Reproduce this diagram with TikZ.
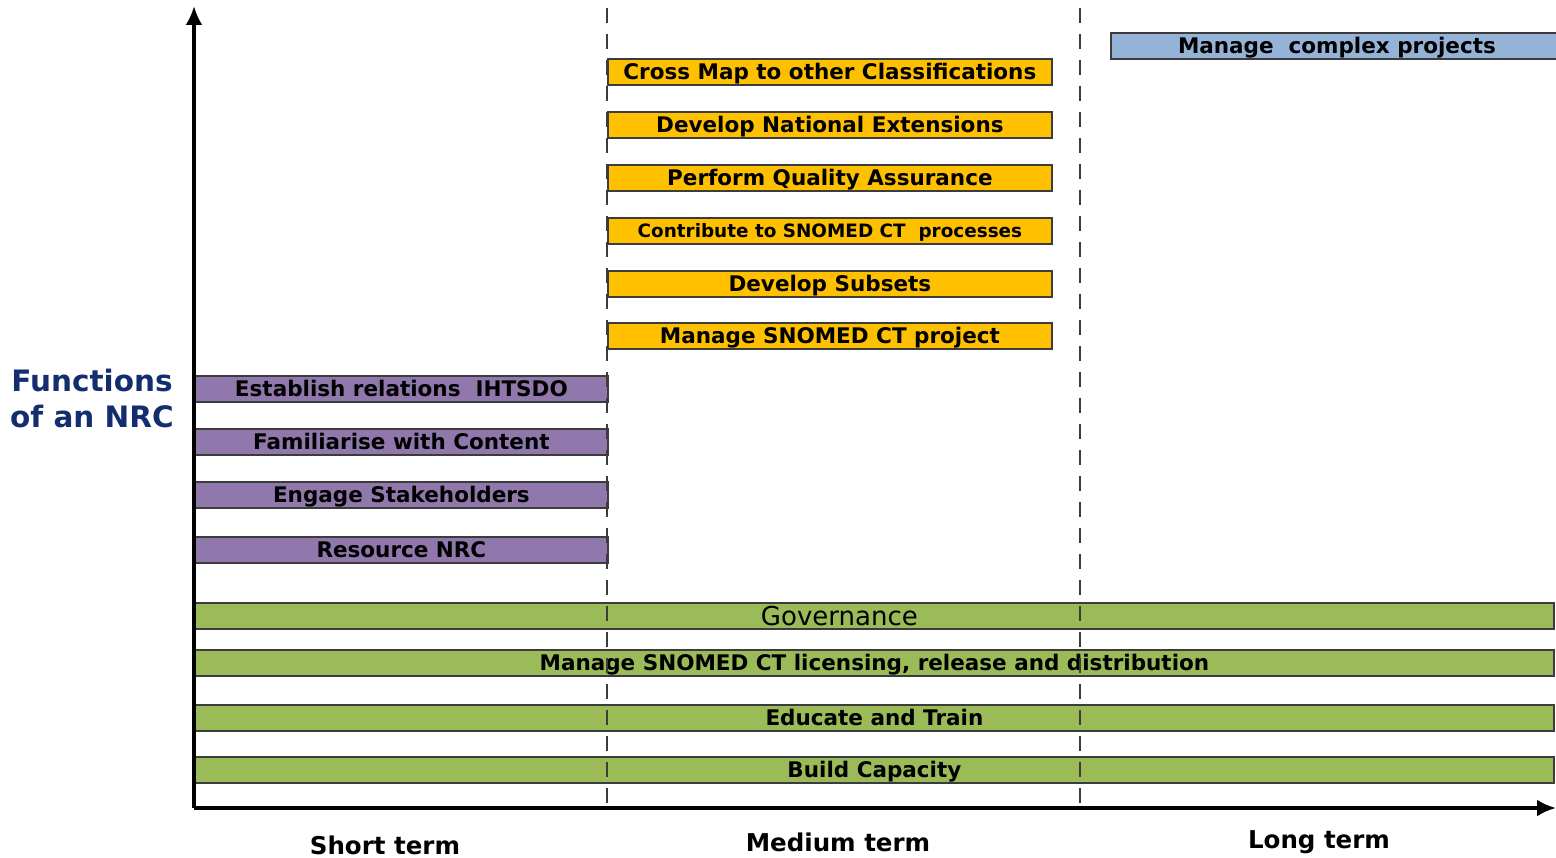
\documentclass[tikz,border=0pt]{standalone}
\usepackage{fontspec}
\setmainfont{DejaVu Sans}
\usetikzlibrary{arrows.meta}
\definecolor{barYellow}{RGB}{255,192,0}
\definecolor{barPurple}{RGB}{144,120,172}
\definecolor{barGreen}{RGB}{155,187,89}
\definecolor{barBlue}{RGB}{149,179,215}
\definecolor{barLine}{RGB}{60,60,60}
\definecolor{titleBlue}{RGB}{20,45,110}
\tikzset{bar/.style={draw=barLine, line width=1.8pt, minimum height=26pt, inner sep=0pt, anchor=west,
    text height=15.5pt, text depth=0pt, font=\bfseries\fontsize{21.5}{21.5}\selectfont},
  termlabel/.style={font=\bfseries\fontsize{24.5}{24.5}\selectfont}}

\begin{document}
\begin{tikzpicture}[x=1pt, y=-1pt]
\useasboundingbox (0,0) rectangle (1556,858);
% medium term
\node[bar, fill=barYellow, minimum width=444pt] (cross) at (607,72) {Cross Map to other Classifications};
\node[bar, fill=barYellow, minimum width=444pt] (natext) at (607,125) {Develop National Extensions};
\node[bar, fill=barYellow, minimum width=444pt] (qa) at (607,178) {Perform Quality Assurance};
\node[bar, fill=barYellow, minimum width=444pt, text height=13.3pt,
  font=\bfseries\fontsize{18.4}{18.4}\selectfont] (contrib) at (607,231) {Contribute to SNOMED CT\ \ processes};
\node[bar, fill=barYellow, minimum width=444pt] (subsets) at (607,284) {Develop Subsets};
\node[bar, fill=barYellow, minimum width=444pt] (project) at (607,336) {Manage SNOMED CT project};
% long term
\node[bar, fill=barBlue, minimum width=452pt] (complex) at (1110,46) {Manage\ \ complex projects};
% short term
\node[bar, fill=barPurple, minimum width=413pt] (relations) at (194,389) {Establish relations\ \ IHTSDO};
\node[bar, fill=barPurple, minimum width=413pt] (content) at (194,442) {Familiarise with Content};
\node[bar, fill=barPurple, minimum width=413pt] (stake) at (194,495) {Engage Stakeholders};
\node[bar, fill=barPurple, minimum width=413pt] (resource) at (194,550) {Resource NRC};
% all terms
\node[bar, fill=barGreen, minimum width=1359pt,
  label={[xshift=-35pt, font=\fontsize{26}{26}\selectfont, text height=19pt, text depth=0pt]center:Governance}] (govern) at (194,616) {};
\node[bar, fill=barGreen, minimum width=1359pt] (licence) at (194,663) {Manage SNOMED CT licensing, release and distribution};
\node[bar, fill=barGreen, minimum width=1359pt] (educate) at (194,718) {Educate and Train};
\node[bar, fill=barGreen, minimum width=1359pt] (capacity) at (194,770) {Build Capacity};
% axes
\coordinate (o) at (194,808);
\coordinate (ytip) at (194,6);
\coordinate (xtip) at (1556,808);
\coordinate (m0) at (607,8);
\coordinate (m1) at (607,808);
\coordinate (l0) at (1080,8);
\coordinate (l1) at (1080,808);
\draw[barLine, line width=2.4pt, dash pattern=on 15pt off 11pt] (m0)--(m1);
\draw[barLine, line width=2.4pt, dash pattern=on 15pt off 11pt] (l0)--(l1);
\draw[line width=3.5pt, -{Latex[length=19pt,width=17pt]}] (o)--(ytip);
\draw[line width=3.5pt, -{Latex[length=19pt,width=17pt]}] (o)--(xtip);
% labels
\node[font=\bfseries\fontsize{29.5}{36}\selectfont, text=titleBlue, align=center] (title) at (92,399) {Functions\\of an NRC};
\node[termlabel] (short) at (385,845) {Short term};
\node[termlabel] (medium) at (838,842) {Medium term};
\node[termlabel] (long) at (1319,842) {Long term};
\end{tikzpicture}
\end{document}
